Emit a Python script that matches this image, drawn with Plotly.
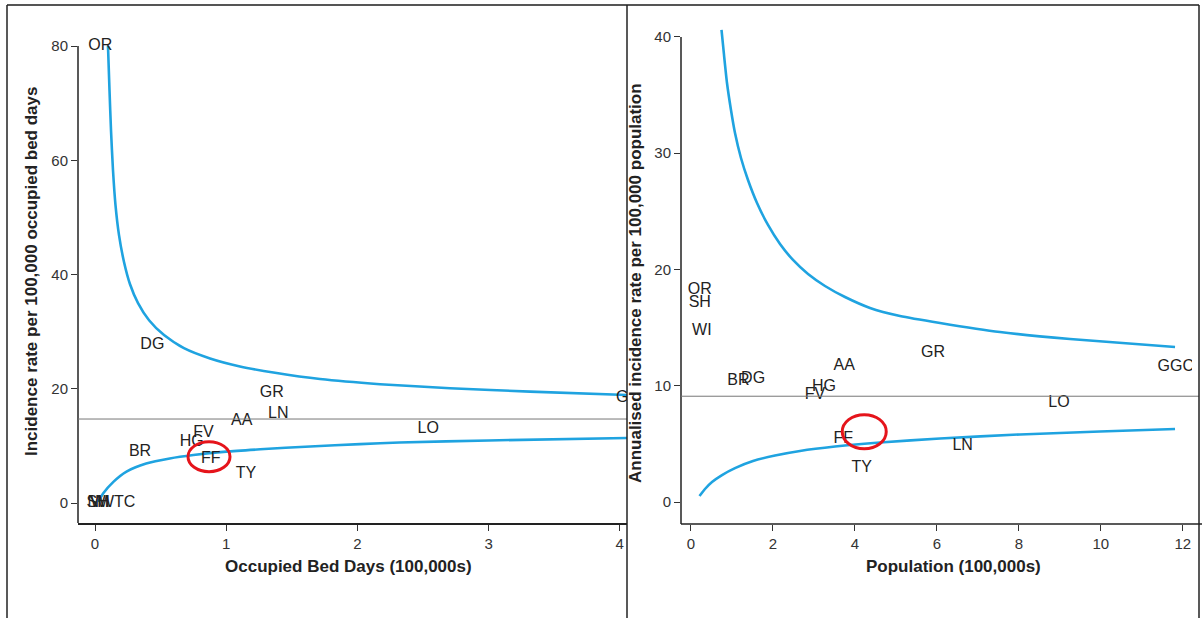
import plotly.graph_objects as go

# ---- Incidence per occupied bed days (100,000s) ----
obd_labels = ["OR", "SH", "WI", "NWTC", "DG", "BR", "HG", "FV", "FF", "AA", "LN", "GR", "TY", "LO", "GGC"]
obd_days = [0.04, 0.02, 0.04, 0.125, 0.437, 0.343, 0.737, 0.826, 0.882, 1.118, 1.397, 1.347, 1.15, 2.54, 4.11]
obd_rate = [80.0, 0.0, 0.0, 0.0, 27.7, 9.0, 10.7, 12.2, 7.7, 14.4, 15.6, 19.2, 5.1, 12.9, 18.3]
obd_mean = 14.7

obd_upper_x = [0.099, 0.1105, 0.122, 0.137, 0.156, 0.183, 0.221, 0.267, 0.328, 0.412, 0.526, 0.678,
               0.877, 1.105, 1.372, 1.715, 2.172, 2.706, 3.316, 4.078]
obd_upper_y = [80.0, 72.3, 65.2, 58.3, 52.2, 46.9, 42.2, 38.3, 35.0, 32.0, 29.4, 27.1,
               25.3, 23.9, 22.8, 21.7, 20.8, 20.1, 19.5, 18.9]
obd_lower_x = [0.025, 0.063, 0.14, 0.24, 0.39, 0.57, 0.75, 1.00, 1.26, 1.64, 2.02, 2.32, 3.00, 4.10]
obd_lower_y = [0.2, 1.7, 3.7, 5.5, 6.9, 7.8, 8.4, 9.0, 9.4, 9.9, 10.3, 10.6, 10.95, 11.4]

# ---- Annualised incidence per population (100,000s) ----
pop_labels = ["OR", "SH", "WI", "BR", "DG", "HG", "FV", "AA", "FF", "TY", "GR", "LN", "LO", "GGC"]
pop_size = [0.22, 0.22, 0.27, 1.16, 1.52, 3.25, 3.03, 3.74, 3.72, 4.17, 5.91, 6.63, 8.98, 11.83]
pop_rate = [18.2, 17.1, 14.7, 10.4, 10.6, 9.9, 9.2, 11.7, 5.4, 2.9, 12.8, 4.8, 8.5, 11.6]
pop_mean = 9.1

pop_upper_x = [0.749, 0.810, 0.883, 0.980, 1.078, 1.224, 1.395, 1.615, 1.883, 2.176, 2.493, 2.859,
               3.273, 3.761, 4.371, 5.102, 6.078, 7.541, 9.249, 11.81]
pop_upper_y = [40.6, 38.45, 36.04, 33.72, 31.74, 29.59, 27.70, 25.72, 23.83, 22.19, 20.82, 19.61,
               18.58, 17.63, 16.69, 16.00, 15.40, 14.62, 14.02, 13.33]
pop_lower_x = [0.212, 0.346, 0.517, 0.761, 1.078, 1.517, 2.054, 2.663, 3.517, 4.615, 6.078, 8.029, 9.980, 11.81]
pop_lower_y = [0.52, 1.12, 1.72, 2.32, 2.92, 3.53, 4.00, 4.39, 4.77, 5.12, 5.46, 5.81, 6.06, 6.28]

# highlighted board (FF) in each panel
obd_highlight = (0.869, 8.1)
pop_highlight = (4.23, 6.05)

obd_xticks = [0, 1, 2, 3, 4]
obd_yticks = [0, 20, 40, 60, 80]
pop_xticks = [0, 2, 4, 6, 8, 10, 12]
pop_yticks = [0, 10, 20, 30, 40]

W, H = 1202, 618
FONT = "Liberation Sans, Arial, Helvetica, sans-serif"
CURVE = "#1fa3e0"
INK = "#222222"

def px(x):
    return x / W

def py(y):
    return 1 - y / H

fig = go.Figure()

def add_panel(xa, ya, lx, ly, ux, uy, labels, xs, ys):
    for cx, cy in ((ux, uy), (lx, ly)):
        fig.add_trace(go.Scatter(x=cx, y=cy, mode="lines",
                                 line=dict(color=CURVE, width=2.6, shape="spline", smoothing=0.6),
                                 xaxis=xa, yaxis=ya, hoverinfo="skip", showlegend=False))
    fig.add_trace(go.Scatter(x=xs, y=ys, mode="text", text=labels, textposition="middle center",
                             textfont=dict(family=FONT, size=16, color=INK), cliponaxis=True,
                             xaxis=xa, yaxis=ya, hoverinfo="skip", showlegend=False))

add_panel("x", "y", obd_lower_x, obd_lower_y, obd_upper_x, obd_upper_y, obd_labels, obd_days, obd_rate)
add_panel("x2", "y2", pop_lower_x, pop_lower_y, pop_upper_x, pop_upper_y, pop_labels, pop_size, pop_rate)

obd_xrange = [-0.1296, 4.055]
obd_yrange = [-3.5, 82.8]
pop_xrange = [-0.239, 12.224]
pop_yrange = [-1.89, 40.77]

axis_common = dict(showgrid=False, zeroline=False, ticks="outside", ticklen=6, tickwidth=1.3,
                   tickcolor="#333", tickfont=dict(family=FONT, size=15, color="#333"), fixedrange=True)

fig.update_layout(
    width=W, height=H, margin=dict(l=0, r=0, t=0, b=0),
    paper_bgcolor="white", plot_bgcolor="white",
    xaxis=dict(domain=[px(78), px(627)], range=obd_xrange, tickvals=obd_xticks, anchor="y",
               showline=True, linecolor=INK, linewidth=1.5, **axis_common),
    yaxis=dict(domain=[py(523), py(30)], range=obd_yrange, tickvals=obd_yticks, anchor="x",
               showline=False, **axis_common),
    xaxis2=dict(domain=[px(681), px(1192)], range=pop_xrange, tickvals=pop_xticks, anchor="y2",
                showline=False, **axis_common),
    yaxis2=dict(domain=[py(524), py(28)], range=pop_yrange, tickvals=pop_yticks, anchor="x2",
                showline=False, **axis_common),
)

shapes = []
# y axis lines ending at the top tick
shapes.append(dict(type="line", xref="x domain", yref="y", x0=0, x1=0, y0=obd_yrange[0], y1=max(obd_yticks),
                   line=dict(color=INK, width=1.5)))
shapes.append(dict(type="line", xref="x2 domain", yref="y2", x0=0, x1=0, y0=pop_yrange[0], y1=max(pop_yticks),
                   line=dict(color=INK, width=1.5)))
# right panel x axis line runs to the page edge
shapes.append(dict(type="line", xref="paper", yref="y2 domain", x0=px(681), x1=1, y0=0, y1=0,
                   line=dict(color=INK, width=1.5)))
# overall means
shapes.append(dict(type="line", xref="x domain", yref="y", x0=0, x1=1, y0=obd_mean, y1=obd_mean,
                   line=dict(color="#777", width=1)))
shapes.append(dict(type="line", xref="paper", yref="y2", x0=px(681), x1=px(1199), y0=pop_mean, y1=pop_mean,
                   line=dict(color="#777", width=1)))
# highlight rings
for (cx, cy), xr, yr, w, h in [(obd_highlight, "x", "y", 42, 30), (pop_highlight, "x2", "y2", 44, 34)]:
    shapes.append(dict(type="circle", xref=xr, yref=yr, xsizemode="pixel", ysizemode="pixel",
                       xanchor=cx, yanchor=cy, x0=-w / 2, x1=w / 2, y0=-h / 2, y1=h / 2,
                       line=dict(color="#e5141b", width=3)))
# page frame
shapes.append(dict(type="line", xref="paper", yref="paper", x0=px(7), x1=px(1199), y0=py(5), y1=py(5),
                   line=dict(color="#555", width=2)))
for xv in (7, 627, 1199):
    shapes.append(dict(type="line", xref="paper", yref="paper", x0=px(xv), x1=px(xv), y0=0, y1=py(5),
                       line=dict(color=INK, width=1.5)))
fig.update_layout(shapes=shapes)

title_font = dict(family=FONT, size=17, color=INK, weight="bold")
annotations = [
    dict(text="Incidence rate per 100,000 occupied bed days", x=px(31), y=py(272), textangle=-90),
    dict(text="Annualised incidence rate per 100,000 population", x=px(636), y=py(283), textangle=-90),
    dict(text="Occupied Bed Days (100,000s)", x=px(348), y=py(566), textangle=0),
    dict(text="Population (100,000s)", x=px(953), y=py(566), textangle=0),
]
for a in annotations:
    fig.add_annotation(xref="paper", yref="paper", showarrow=False, xanchor="center", yanchor="middle",
                       font=title_font, **a)

fig.write_html("out.html")
